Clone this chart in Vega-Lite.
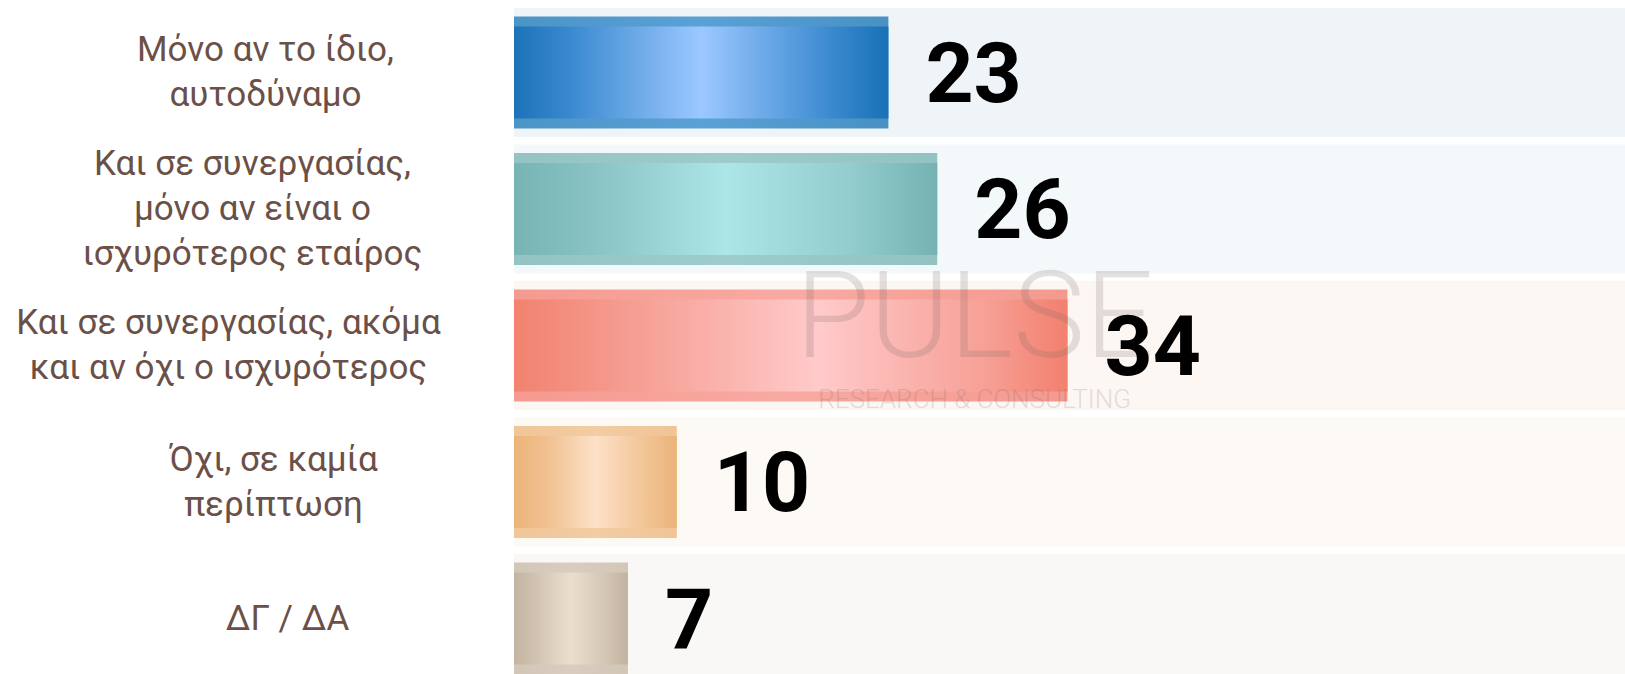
{
  "$schema": "https://vega.github.io/schema/vega-lite/v6.json",
  "width": 1111,
  "height": 674,
  "autosize": {"type": "none"},
  "padding": {"left": 514, "top": 0, "right": 0, "bottom": 0},
  "background": "white",
  "config": {"view": {"stroke": null}},
  "data": {"values": [
    {"answer": "Μόνο αν το ίδιο,|αυτοδύναμο", "pct": 23},
    {"answer": "Και σε συνεργασίας,|μόνο αν είναι ο|ισχυρότερος εταίρος", "pct": 26},
    {"answer": "Και σε συνεργασίας, ακόμα|και αν όχι ο ισχυρότερος", "pct": 34},
    {"answer": "Όχι, σε καμία|περίπτωση", "pct": 10},
    {"answer": "ΔΓ / ΔΑ", "pct": 7}
  ]},
  "encoding": {
    "y": {
      "field": "answer", "type": "nominal",
      "scale": {
        "domain": ["Μόνο αν το ίδιο,|αυτοδύναμο", "Και σε συνεργασίας,|μόνο αν είναι ο|ισχυρότερος εταίρος", "Και σε συνεργασίας, ακόμα|και αν όχι ο ισχυρότερος", "Όχι, σε καμία|περίπτωση", "ΔΓ / ΔΑ"],
        "range": [4.25, 686.75], "paddingInner": 0, "paddingOuter": 0
      },
      "axis": {
        "title": null, "domain": false, "ticks": false, "tickSize": 0, "grid": false,
        "labelPadding": {
          "condition": [
            {"test": "datum.value == 'Μόνο αν το ίδιο,|αυτοδύναμο'", "value": 249},
            {"test": "datum.value == 'Και σε συνεργασίας,|μόνο αν είναι ο|ισχυρότερος εταίρος'", "value": 262},
            {"test": "datum.value == 'Και σε συνεργασίας, ακόμα|και αν όχι ο ισχυρότερος'", "value": 286},
            {"test": "datum.value == 'Όχι, σε καμία|περίπτωση'", "value": 241}
          ],
          "value": 227
        },
        "labelAlign": "center", "labelBaseline": "middle",
        "labelFont": "Roboto", "labelFontSize": 35, "labelColor": "#6b5048",
        "labelLineHeight": 45, "labelLimit": 0, "labelOverlap": false, "labelBound": false,
        "labelOffset": {
          "condition": [
            {"test": "length(split(datum.value, '|')) == 3", "value": -45},
            {"test": "length(split(datum.value, '|')) == 2", "value": -22.5}
          ],
          "value": 0
        },
        "labelExpr": "split(datum.value, '|')"
      }
    }
  },
  "layer": [
    {
      "mark": {"type": "bar", "height": {"band": 0.945}, "stroke": null},
      "encoding": {
        "x": {"datum": 68.25, "type": "quantitative", "scale": {"domain": [0, 68.25], "nice": false, "zero": true}, "axis": null},
        "fill": {
          "field": "answer", "legend": null,
          "scale": {
            "domain": ["Μόνο αν το ίδιο,|αυτοδύναμο", "Και σε συνεργασίας,|μόνο αν είναι ο|ισχυρότερος εταίρος", "Και σε συνεργασίας, ακόμα|και αν όχι ο ισχυρότερος", "Όχι, σε καμία|περίπτωση", "ΔΓ / ΔΑ"],
            "range": ["#eff4f9", "#f3f8fa", "#fdf7f4", "#fdf9f4", "#f9f8f6"]
          }
        }
      }
    },
    {
      "mark": {"type": "bar", "height": {"band": 0.82}, "stroke": null},
      "encoding": {
        "x": {"field": "pct", "type": "quantitative", "axis": null},
        "fill": {
          "condition": [
            {"test": {"field": "answer", "equal": "Μόνο αν το ίδιο,|αυτοδύναμο"},
             "value": {"gradient": "linear", "x1": 0, "y1": 0, "x2": 1, "y2": 0, "stops": [{"offset": 0, "color": "#4b94c6"}, {"offset": 0.5, "color": "#5aa1d6"}, {"offset": 1, "color": "#4891c3"}]}},
            {"test": {"field": "answer", "equal": "Και σε συνεργασίας,|μόνο αν είναι ο|ισχυρότερος εταίρος"},
             "value": {"gradient": "linear", "x1": 0, "y1": 0, "x2": 1, "y2": 0, "stops": [{"offset": 0, "color": "#94c3c3"}, {"offset": 0.5, "color": "#9ecccc"}, {"offset": 1, "color": "#92c2c2"}]}},
            {"test": {"field": "answer", "equal": "Και σε συνεργασίας, ακόμα|και αν όχι ο ισχυρότερος"},
             "value": {"gradient": "linear", "x1": 0, "y1": 0, "x2": 1, "y2": 0, "stops": [{"offset": 0, "color": "#f59a90"}, {"offset": 0.5, "color": "#f8aaa2"}, {"offset": 1, "color": "#f5998f"}]}},
            {"test": {"field": "answer", "equal": "Όχι, σε καμία|περίπτωση"},
             "value": {"gradient": "linear", "x1": 0, "y1": 0, "x2": 1, "y2": 0, "stops": [{"offset": 0, "color": "#f0c597"}, {"offset": 0.5, "color": "#f3cca3"}, {"offset": 1, "color": "#f0c495"}]}}
          ],
          "value": {"gradient": "linear", "x1": 0, "y1": 0, "x2": 1, "y2": 0, "stops": [{"offset": 0, "color": "#d2c6b7"}, {"offset": 0.5, "color": "#d8cdbf"}, {"offset": 1, "color": "#d2c6b7"}]}
        }
      }
    },
    {
      "mark": {"type": "bar", "height": {"band": 0.674}, "stroke": null},
      "encoding": {
        "x": {"field": "pct", "type": "quantitative", "axis": null},
        "fill": {
          "condition": [
            {"test": {"field": "answer", "equal": "Μόνο αν το ίδιο,|αυτοδύναμο"},
             "value": {"gradient": "linear", "x1": 0, "y1": 0, "x2": 1, "y2": 0, "stops": [{"offset": 0, "color": "#1c73b8"}, {"offset": 0.15, "color": "#3a89cf"}, {"offset": 0.5, "color": "#9cc8ff"}, {"offset": 0.85, "color": "#3a89cf"}, {"offset": 1, "color": "#1a71b5"}]}},
            {"test": {"field": "answer", "equal": "Και σε συνεργασίας,|μόνο αν είναι ο|ισχυρότερος εταίρος"},
             "value": {"gradient": "linear", "x1": 0, "y1": 0, "x2": 1, "y2": 0, "stops": [{"offset": 0, "color": "#78b4b4"}, {"offset": 0.2, "color": "#8ac4c4"}, {"offset": 0.5, "color": "#ade6e6"}, {"offset": 0.8, "color": "#92cccc"}, {"offset": 1, "color": "#76b2b2"}]}},
            {"test": {"field": "answer", "equal": "Και σε συνεργασίας, ακόμα|και αν όχι ο ισχυρότερος"},
             "value": {"gradient": "linear", "x1": 0, "y1": 0, "x2": 1, "y2": 0, "stops": [{"offset": 0, "color": "#f2826f"}, {"offset": 0.2, "color": "#f59c90"}, {"offset": 0.55, "color": "#ffcaca"}, {"offset": 0.85, "color": "#f7a096"}, {"offset": 1, "color": "#f2806e"}]}},
            {"test": {"field": "answer", "equal": "Όχι, σε καμία|περίπτωση"},
             "value": {"gradient": "linear", "x1": 0, "y1": 0, "x2": 1, "y2": 0, "stops": [{"offset": 0, "color": "#ecb47b"}, {"offset": 0.2, "color": "#f0c08f"}, {"offset": 0.5, "color": "#fde0c8"}, {"offset": 0.8, "color": "#f2c595"}, {"offset": 1, "color": "#ebb47a"}]}}
          ],
          "value": {"gradient": "linear", "x1": 0, "y1": 0, "x2": 1, "y2": 0, "stops": [{"offset": 0, "color": "#c3b4a1"}, {"offset": 0.2, "color": "#d2c4b2"}, {"offset": 0.5, "color": "#ebdfcc"}, {"offset": 0.8, "color": "#d3c6b4"}, {"offset": 1, "color": "#c2b3a0"}]}
        }
      }
    },
    {
      "data": {"values": [{"brand": "PULSE", "tag": "RESEARCH & CONSULTING"}]},
      "mark": {"type": "text", "font": "Roboto", "fontWeight": 300, "fontSize": 121, "align": "center", "baseline": "middle", "dy": -25, "fill": "#7a6a66", "opacity": 0.2},
      "encoding": {
        "x": {"datum": 28.3, "type": "quantitative", "axis": null},
        "y": {"datum": "Και σε συνεργασίας, ακόμα|και αν όχι ο ισχυρότερος", "type": "nominal"},
        "text": {"field": "brand"}
      }
    },
    {
      "data": {"values": [{"brand": "PULSE", "tag": "RESEARCH & CONSULTING"}]},
      "mark": {"type": "text", "font": "Roboto", "fontWeight": 300, "fontSize": 26, "align": "center", "baseline": "middle", "dy": 54, "fill": "#7a6a66", "opacity": 0.2},
      "encoding": {
        "x": {"datum": 28.3, "type": "quantitative", "axis": null},
        "y": {"datum": "Και σε συνεργασίας, ακόμα|και αν όχι ο ισχυρότερος", "type": "nominal"},
        "text": {"field": "tag"}
      }
    },
    {
      "mark": {"type": "text", "font": "Roboto", "fontWeight": "bold", "fontSize": 84, "align": "left", "baseline": "middle", "dx": 37, "dy": 4, "fill": "#000000"},
      "encoding": {
        "x": {"field": "pct", "type": "quantitative", "axis": null},
        "text": {"field": "pct", "type": "quantitative"}
      }
    }
  ]
}
